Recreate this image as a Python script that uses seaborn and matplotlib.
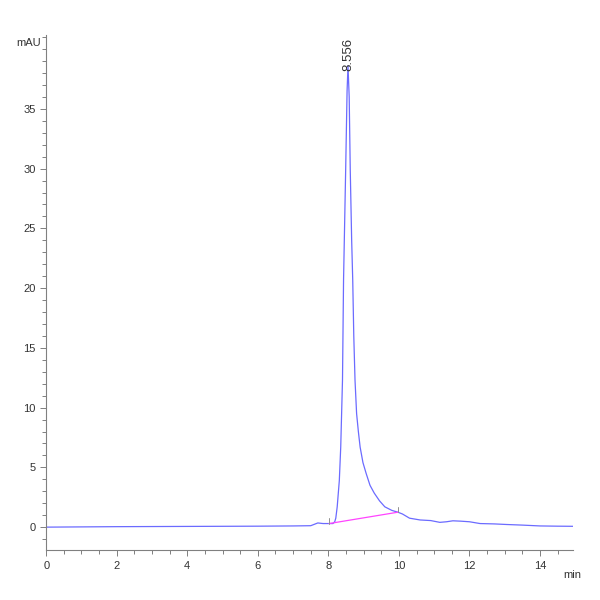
import seaborn as sns
import matplotlib.pyplot as plt
import pandas as pd

# 크로마토그램 데이터
time_min = [0, 1, 2, 3, 4, 5, 6, 7, 7.5, 7.7, 7.85, 8.0, 8.13, 8.18, 8.21, 8.25,
            8.31, 8.35, 8.40, 8.43, 8.49, 8.53, 8.556, 8.59, 8.62, 8.66, 8.69,
            8.72, 8.755, 8.80, 8.85, 8.90, 8.98, 9.07, 9.18, 9.3, 9.45, 9.6,
            9.8, 9.97, 10.1, 10.3, 10.6, 10.9, 11.16, 11.35, 11.53, 11.75, 12.0,
            12.3, 12.7, 13.06, 13.5, 14.0, 14.5, 14.93]
signal_mau = [0, 0.02, 0.04, 0.05, 0.06, 0.07, 0.08, 0.1, 0.12, 0.35, 0.3, 0.3,
              0.3, 0.45, 0.75, 1.7, 3.9, 6.7, 12.3, 20.7, 29.9, 36.5, 38.6,
              36.0, 29.9, 24.0, 20.7, 16.0, 12.3, 9.5, 8.0, 6.7, 5.4, 4.5, 3.5,
              2.85, 2.2, 1.7, 1.4, 1.25, 1.1, 0.75, 0.6, 0.55, 0.4, 0.45, 0.53,
              0.5, 0.45, 0.3, 0.27, 0.22, 0.17, 0.1, 0.08, 0.07]

# 적분 기준선 (시작, 끝)
base_t = [8.02, 9.97]
base_y = [0.3, 1.25]

peak_rt = 8.556
peak_label = "8.556"

df = pd.DataFrame({'t': time_min, 'mAU': signal_mau})
base_df = pd.DataFrame({'t': base_t, 'mAU': base_y})

sns.set_style('white')
plt.rcParams['font.family'] = ['Liberation Sans Narrow', 'Liberation Sans', 'DejaVu Sans']

fig = plt.figure(figsize=(6, 6), dpi=100)
ax = fig.add_axes([0.077, 0.083, 0.878, 0.859])

sns.lineplot(data=df, x='t', y='mAU', ax=ax, color='#6b6bff', linewidth=0.9,
             sort=False, estimator=None)
sns.lineplot(data=base_df, x='t', y='mAU', ax=ax, color='#ff44ff', linewidth=0.9,
             sort=False, estimator=None)

# 기준선 시작/끝 표시
for t, y in zip(base_t, base_y):
    ax.plot([t, t], [y, y + 0.45], color='#909090', linewidth=0.7)

ax.text(peak_rt, 38.2, peak_label, rotation=90, ha='center', va='bottom',
        fontsize=9.5, color='#333333', clip_on=False)

ax.set_xlim(0, 14.935)
ax.set_ylim(-1.93, 41.2)
ax.set_xticks(range(0, 15, 2))
ax.set_xticks([i * 0.5 for i in range(30)], minor=True)
ax.set_yticks(range(0, 40, 5))
ax.set_yticks(range(-1, 42), minor=True)

ax.set_xlabel('')
ax.set_ylabel('')
for s in ['top', 'right']:
    ax.spines[s].set_visible(False)
for s in ['left', 'bottom']:
    ax.spines[s].set_color('#808080')
    ax.spines[s].set_linewidth(0.8)

ax.tick_params(which='both', direction='out', color='#808080', width=0.7,
               labelsize=8, labelcolor='#333333')
ax.tick_params(which='major', length=4, bottom=True, left=True)
ax.tick_params(which='minor', length=3, bottom=True, left=True)

fig.text(0.068, 0.928, 'mAU', fontsize=8, color='#333333', ha='right', va='center')
fig.text(0.938, 0.042, 'min', fontsize=8, color='#333333', ha='left', va='center')

fig.savefig('out.png', dpi=100)
